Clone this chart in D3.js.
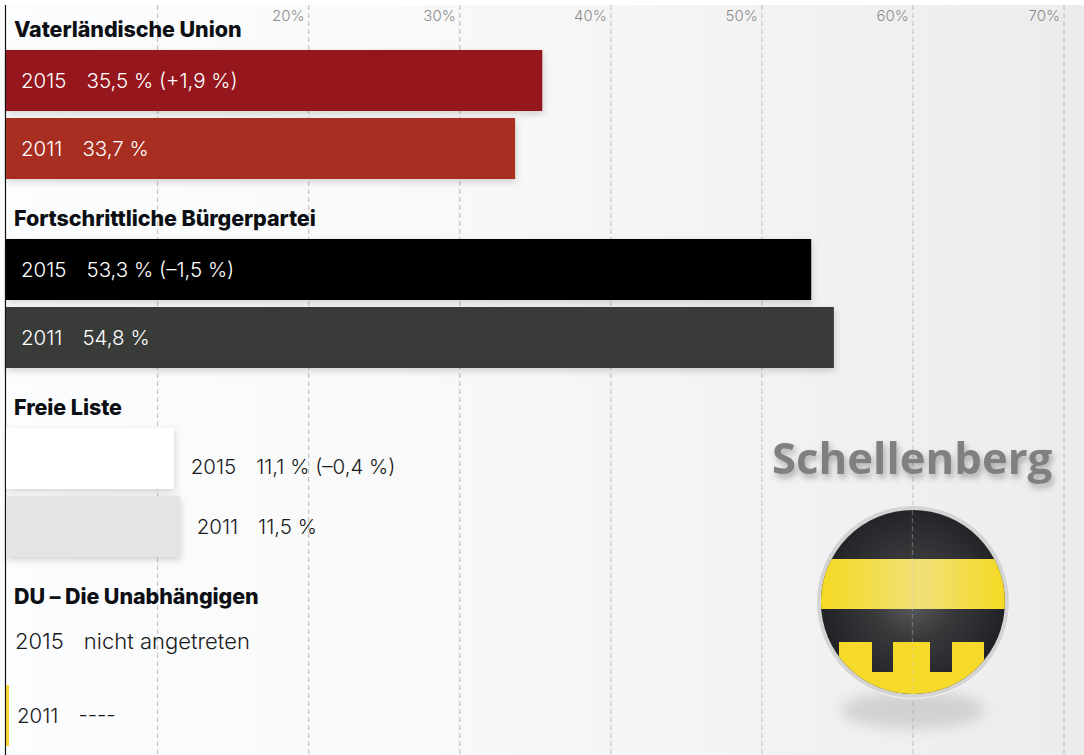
<!DOCTYPE html>
<html>
<head>
<meta charset="utf-8">
<script src="https://cdn.jsdelivr.net/npm/d3@7"></script>
<style>
  body { margin: 0; background: #fff; }
  svg { display: block; }
  text { font-family: Inter, sans-serif; }
</style>
</head>
<body>
<div id="chart"></div>
<script>
const parties = ["Vaterländische Union", "Fortschrittliche Bürgerpartei", "Freie Liste", "DU – Die Unabhängigen"];
const years = ["2015", "2011"];
const values2015 = [35.5, 53.3, 11.1, null];
const values2011 = [33.7, 54.8, 11.5, 0.2];
const labels2015 = ["35,5 % (+1,9 %)", "53,3 % (–1,5 %)", "11,1 % (–0,4 %)", "nicht angetreten"];
const labels2011 = ["33,7 %", "54,8 %", "11,5 %", "----"];
const colors2015 = ["#95181c", "#020506", "#ffffff", "none"];
const colors2011 = ["#a92f22", "#393a39", "#e4e4e4", "#f5d432"];
const tickValues = [10, 20, 30, 40, 50, 60, 70];
const tickLabels = ["", "20%", "30%", "40%", "50%", "60%", "70%"];
const municipality = "Schellenberg";

const width = 1084, height = 755;

const svg = d3.select("#chart").append("svg")
  .attr("width", width)
  .attr("height", height);

const defs = svg.append("defs");

const bgGrad = defs.append("linearGradient").attr("id", "bg");
bgGrad.append("stop").attr("offset", "0%").attr("stop-color", "#fcfdfe");
bgGrad.append("stop").attr("offset", "45%").attr("stop-color", "#f8f8f8");
bgGrad.append("stop").attr("offset", "100%").attr("stop-color", "#ececec");

const shadow = defs.append("filter").attr("id", "barShadow")
  .attr("x", "-5%").attr("y", "-20%").attr("width", "110%").attr("height", "150%");
shadow.append("feDropShadow")
  .attr("dx", 1).attr("dy", 3).attr("stdDeviation", 3.5)
  .attr("flood-color", "#000").attr("flood-opacity", 0.16);

const titleShadow = defs.append("filter").attr("id", "titleShadow")
  .attr("x", "-5%").attr("y", "-20%").attr("width", "110%").attr("height", "150%");
titleShadow.append("feDropShadow")
  .attr("dx", 2).attr("dy", 4).attr("stdDeviation", 3)
  .attr("flood-color", "#000").attr("flood-opacity", 0.3);

const blur = defs.append("filter").attr("id", "blur")
  .attr("x", "-30%").attr("y", "-60%").attr("width", "160%").attr("height", "220%");
blur.append("feGaussianBlur").attr("stdDeviation", 7);

const darkGrad = defs.append("radialGradient").attr("id", "dark")
  .attr("cx", "50%").attr("cy", "48%").attr("r", "50%");
darkGrad.append("stop").attr("offset", "0%").attr("stop-color", "#5c5e60");
darkGrad.append("stop").attr("offset", "45%").attr("stop-color", "#37393b");
darkGrad.append("stop").attr("offset", "100%").attr("stop-color", "#222326");

const yellowGrad = defs.append("linearGradient").attr("id", "yellow");
yellowGrad.append("stop").attr("offset", "0%").attr("stop-color", "#f5da22");
yellowGrad.append("stop").attr("offset", "55%").attr("stop-color", "#f0e078");
yellowGrad.append("stop").attr("offset", "100%").attr("stop-color", "#f5da22");

svg.append("rect")
  .attr("y", 5)
  .attr("width", width)
  .attr("height", height - 5)
  .attr("fill", "url(#bg)");

const x = d3.scaleLinear().domain([0, 70]).range([6, 1063.5]);
const groupY = d3.scaleLinear().domain([0, 3]).range([50, 617]);
const yearY = d3.scaleBand().domain(years).range([0, 129]).paddingInner(7 / 68);

// grid and percent labels
const axisG = svg.append("g")
  .attr("transform", "translate(0,5)")
  .call(d3.axisBottom(x)
    .tickValues(tickValues)
    .tickSize(height - 5)
    .tickFormat((d, i) => tickLabels[i]));

axisG.select(".domain").remove();
axisG.selectAll("line")
  .attr("stroke", "#c9c9c9")
  .attr("stroke-width", 1.3)
  .attr("stroke-dasharray", "5,3");
axisG.selectAll("text")
  .attr("y", 5)
  .attr("dy", "0.71em")
  .attr("x", -4)
  .attr("text-anchor", "end")
  .attr("fill", "#8c8c8c")
  .style("font-family", "Inter, sans-serif")
  .style("font-size", "15px")
  .style("font-weight", 300);

// logo
const logoX = x(60) + 0.5, logoY = 602, logoR = 92;
const logo = svg.append("g");

logo.append("ellipse")
  .attr("cx", logoX).attr("cy", 710)
  .attr("rx", 72).attr("ry", 19)
  .attr("fill", "#b4b4b4")
  .attr("opacity", 0.5)
  .attr("filter", "url(#blur)");

defs.append("clipPath").attr("id", "logoClip")
  .append("circle").attr("cx", logoX).attr("cy", logoY).attr("r", logoR);

logo.append("circle")
  .attr("cx", logoX).attr("cy", logoY).attr("r", logoR + 4.5)
  .attr("fill", "#d4d4d4")
  .attr("stroke", "#f4f4f4")
  .attr("stroke-width", 1);

const crest = logo.append("g").attr("clip-path", "url(#logoClip)");
crest.append("rect")
  .attr("x", logoX - logoR).attr("y", logoY - logoR)
  .attr("width", logoR * 2).attr("height", logoR * 2)
  .attr("fill", "url(#dark)");
crest.append("rect")
  .attr("x", logoX - logoR).attr("y", 559)
  .attr("width", logoR * 2).attr("height", 50)
  .attr("fill", "url(#yellow)");
crest.append("path")
  .attr("d", "M839,642H872V672H893V642H930V672H952V642H984V700H839Z")
  .attr("fill", "#f5da2a");

// a faint bit of the 60% line shows through the logo
logo.append("line")
  .attr("x1", x(60)).attr("x2", x(60))
  .attr("y1", logoY - logoR).attr("y2", logoY + logoR)
  .attr("stroke", "#c9c9c9")
  .attr("stroke-opacity", 0.35)
  .attr("stroke-width", 1.3)
  .attr("stroke-dasharray", "5,3");

svg.append("text")
  .attr("x", 772)
  .attr("y", 474)
  .attr("fill", "#808080")
  .attr("filter", "url(#titleShadow)")
  .style("font-family", "'Open Sans', sans-serif")
  .style("font-size", "43.7px")
  .style("font-weight", 700)
  .text(municipality);

// y axis line
svg.append("line")
  .attr("x1", 5.5).attr("x2", 5.5)
  .attr("y1", 5).attr("y2", height)
  .attr("stroke", "#111")
  .attr("stroke-width", 1.2);

function yearLabel(sel, year, label) {
  sel.append("tspan").text(year);
  sel.append("tspan").attr("dx", 20).text(label);
}

// small shifts of the labels as in the original layout
const labelShift = { "2:2015": 8, "3:2015": -6 };

parties.forEach((party, p) => {
  const g = svg.append("g").attr("transform", `translate(0,${groupY(p)})`);

  g.append("text")
    .attr("x", 14)
    .attr("y", -13)
    .attr("fill", "#0c0f14")
    .style("font-size", "21.5px")
    .style("font-weight", 800)
    .style("letter-spacing", "-0.08px")
    .text(party);

  const rows = [
    { year: years[0], value: values2015[p], label: labels2015[p], color: colors2015[p] },
    { year: years[1], value: values2011[p], label: labels2011[p], color: colors2011[p] }
  ];

  rows.forEach(r => {
    const top = yearY(r.year);
    if (r.value !== null) {
      g.append("rect")
        .attr("x", x(0))
        .attr("y", top)
        .attr("width", x(r.value) - x(0))
        .attr("height", yearY.bandwidth())
        .attr("fill", r.color)
        .attr("filter", r.value > 1 ? "url(#barShadow)" : null);
    }

    const inside = r.value !== null && r.value > 20;
    let labelX = 21;
    if (!inside) {
      labelX = r.value === null ? 15 : x(r.value) + (r.value > 1 ? 17 : 8);
    }
    const shift = labelShift[`${p}:${r.year}`] || 0;

    g.append("text")
      .attr("x", labelX)
      .attr("y", top + yearY.bandwidth() / 2 + shift)
      .attr("dy", "0.36em")
      .attr("fill", inside ? "#fff" : "#1a1a1a")
      .style("font-size", r.value === null ? "22px" : "20.5px")
      .style("font-weight", 300)
      .call(yearLabel, r.year, r.label);
  });
});
</script>
</body>
</html>
